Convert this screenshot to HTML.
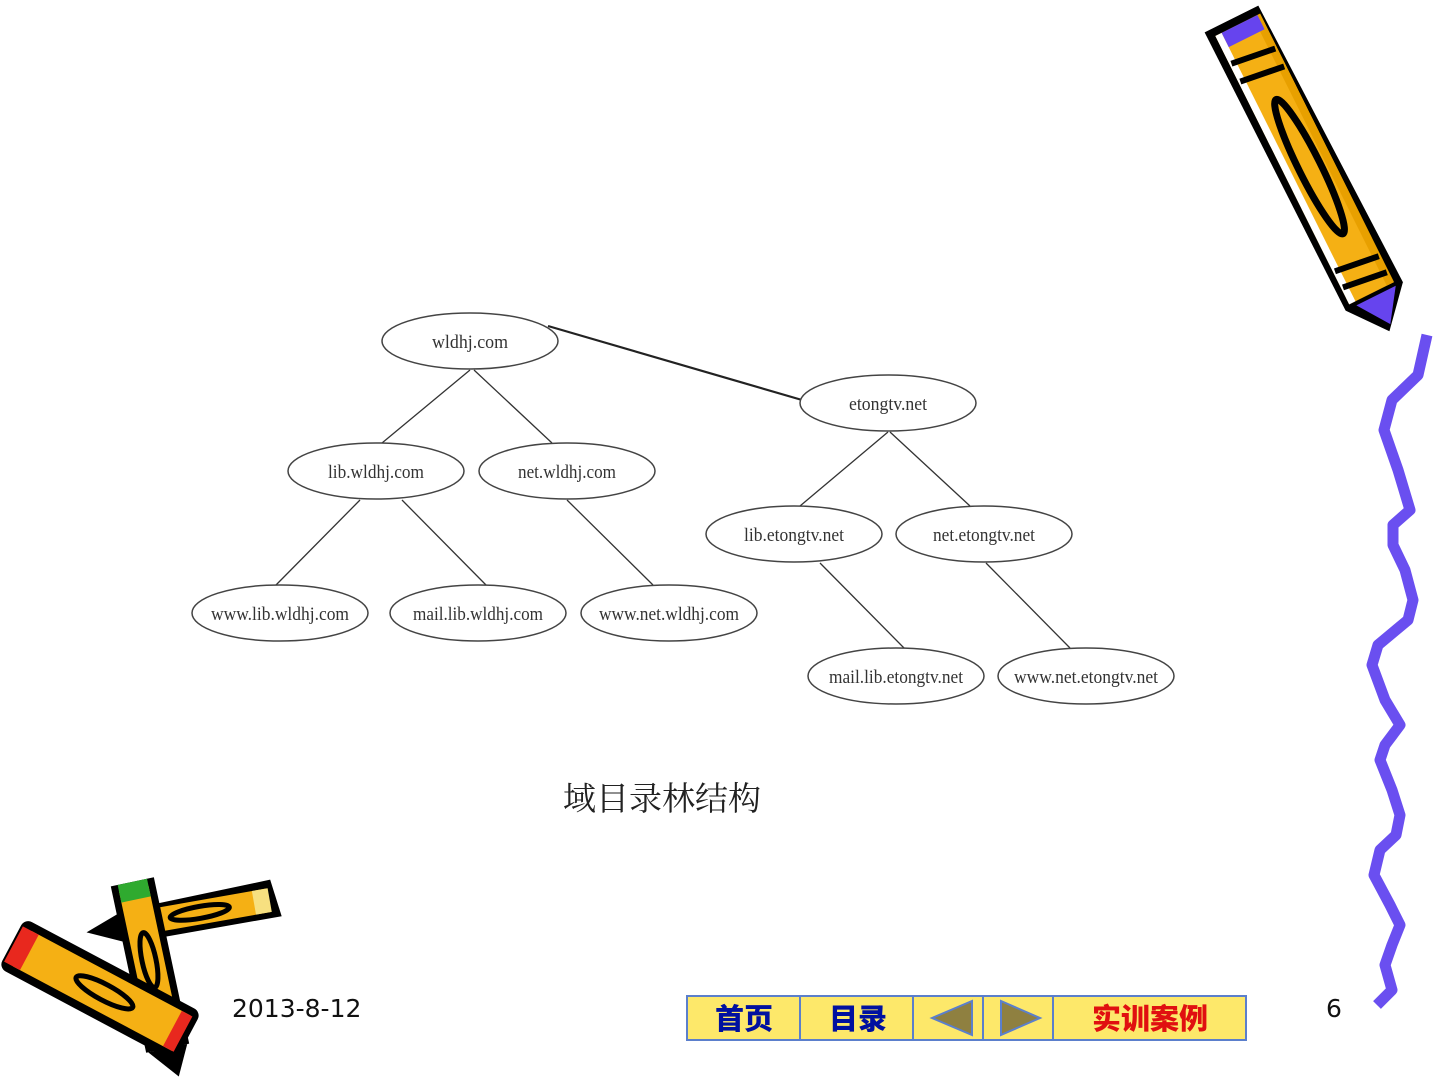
<!DOCTYPE html>
<html><head><meta charset="utf-8"><style>
body{margin:0;width:1440px;height:1080px;background:#fff;overflow:hidden;position:relative;font-family:"Liberation Sans","Noto Sans CJK SC",sans-serif}
svg{position:absolute;left:0;top:0}
</style></head><body>
<svg width="1440" height="1080" viewBox="0 0 1440 1080">
<g stroke="#333" stroke-width="1.3" fill="none">
<line x1="548" y1="326" x2="802" y2="400" stroke-width="2.2" stroke="#222"/>
<line x1="470" y1="370" x2="382" y2="443"/>
<line x1="474" y1="370" x2="552" y2="443"/>
<line x1="888" y1="432" x2="800" y2="506"/>
<line x1="890" y1="432" x2="970" y2="506"/>
<line x1="360" y1="500" x2="276" y2="585"/>
<line x1="402" y1="500" x2="486" y2="585"/>
<line x1="567" y1="500" x2="653" y2="585"/>
<line x1="820" y1="563" x2="904" y2="648"/>
<line x1="986" y1="563" x2="1070" y2="648"/>
</g>
<g stroke="#444" stroke-width="1.5" fill="#fff">
<ellipse cx="470" cy="341" rx="88" ry="28"/>
<ellipse cx="888" cy="403" rx="88" ry="28"/>
<ellipse cx="376" cy="471" rx="88" ry="28"/>
<ellipse cx="567" cy="471" rx="88" ry="28"/>
<ellipse cx="794" cy="534" rx="88" ry="28"/>
<ellipse cx="984" cy="534" rx="88" ry="28"/>
<ellipse cx="280" cy="613" rx="88" ry="28"/>
<ellipse cx="478" cy="613" rx="88" ry="28"/>
<ellipse cx="669" cy="613" rx="88" ry="28"/>
<ellipse cx="896" cy="676" rx="88" ry="28"/>
<ellipse cx="1086" cy="676" rx="88" ry="28"/>
</g>
<g font-family="Liberation Serif,serif" font-size="19" fill="#333" text-anchor="middle">
<text x="470" y="348" textLength="76" lengthAdjust="spacingAndGlyphs">wldhj.com</text>
<text x="888" y="410" textLength="78" lengthAdjust="spacingAndGlyphs">etongtv.net</text>
<text x="376" y="478" textLength="96" lengthAdjust="spacingAndGlyphs">lib.wldhj.com</text>
<text x="567" y="478" textLength="98" lengthAdjust="spacingAndGlyphs">net.wldhj.com</text>
<text x="794" y="541" textLength="100" lengthAdjust="spacingAndGlyphs">lib.etongtv.net</text>
<text x="984" y="541" textLength="102" lengthAdjust="spacingAndGlyphs">net.etongtv.net</text>
<text x="280" y="620" textLength="138" lengthAdjust="spacingAndGlyphs">www.lib.wldhj.com</text>
<text x="478" y="620" textLength="130" lengthAdjust="spacingAndGlyphs">mail.lib.wldhj.com</text>
<text x="669" y="620" textLength="140" lengthAdjust="spacingAndGlyphs">www.net.wldhj.com</text>
<text x="896" y="683" textLength="134" lengthAdjust="spacingAndGlyphs">mail.lib.etongtv.net</text>
<text x="1086" y="683" textLength="144" lengthAdjust="spacingAndGlyphs">www.net.etongtv.net</text>
</g>
<text x="662" y="810" font-family="Noto Serif CJK SC,serif" font-size="33" fill="#222" text-anchor="middle">域目录林结构</text>

<!-- right pencil -->
<g transform="translate(1310,172) rotate(-26.5)">
<polygon points="-32,-172 28,-172 34,140 0,178 -30,140" fill="#000"/>
<rect x="-24" y="-164" width="50" height="300" fill="#f5b014"/>
<rect x="18" y="-164" width="8" height="300" fill="#e8a000"/>
<rect x="-24" y="-164" width="7" height="300" fill="#fff"/>
<rect x="-17" y="-164" width="40" height="16" fill="#6644ee"/>
<ellipse cx="2" cy="-5" rx="11" ry="75" fill="none" stroke="#000" stroke-width="7"/>
<g stroke="#000" stroke-width="6"><line x1="-22" y1="-132" x2="24" y2="-126"/><line x1="-22" y1="-112" x2="24" y2="-106"/><line x1="-22" y1="100" x2="24" y2="106"/><line x1="-22" y1="118" x2="24" y2="124"/></g>
<polygon points="-18,140 26,140 4,172" fill="#6644ee"/>
</g>
<!-- purple squiggle -->
<polyline points="1427,335 1418,375 1392,400 1384,430 1398,470 1410,510 1393,525 1393,545 1405,570 1413,600 1408,620 1378,645 1372,665 1385,700 1400,725 1385,745 1380,760 1392,790 1400,815 1396,835 1380,850 1374,875 1390,905 1400,925 1392,945 1385,965 1392,990 1377,1005" fill="none" stroke="#6a4ff0" stroke-width="11" stroke-linejoin="round"/>

<!-- bottom-left pencils -->
<g transform="translate(185,915) rotate(-10)">
<polygon points="-100,0 -60,-15 90,-20 95,18 -60,18" fill="#000"/>
<rect x="-55" y="-12" width="140" height="24" fill="#f5b014"/>
<rect x="70" y="-12" width="16" height="24" fill="#f7e080"/>
<ellipse cx="15" cy="0" rx="30" ry="6" fill="none" stroke="#000" stroke-width="5"/>
</g>
<g transform="translate(150,965) rotate(-12)">
<rect x="-22" y="-85" width="44" height="170" fill="#000"/>
<rect x="-15" y="-78" width="30" height="158" fill="#f5b014"/>
<rect x="-15" y="-85" width="30" height="18" fill="#2faa2f"/>
<ellipse cx="0" cy="-5" rx="7" ry="28" fill="none" stroke="#000" stroke-width="5"/>
<polygon points="-20,85 20,85 5,115" fill="#000"/>
</g>
<g transform="translate(100,990) rotate(28)">
<rect x="-100" y="-28" width="200" height="56" rx="8" fill="#000"/>
<rect x="-88" y="-20" width="180" height="40" fill="#f5b014"/>
<rect x="-98" y="-20" width="18" height="40" fill="#e8281e"/>
<rect x="82" y="-20" width="12" height="40" fill="#e8281e"/>
<ellipse cx="5" cy="0" rx="32" ry="8" fill="none" stroke="#000" stroke-width="5"/>
</g>

<text x="232" y="1017" font-family="DejaVu Sans,sans-serif" font-size="25" fill="#111">2013-8-12</text>
<text x="1326" y="1017" font-family="DejaVu Sans,sans-serif" font-size="25" fill="#111">6</text>

<!-- nav bar -->
<g stroke="#5b7fcc" stroke-width="2" fill="#fde86a">
<rect x="687" y="996" width="113" height="44"/>
<rect x="800" y="996" width="113" height="44"/>
<rect x="913" y="996" width="70" height="44"/>
<rect x="983" y="996" width="70" height="44"/>
<rect x="1053" y="996" width="193" height="44"/>
</g>
<polygon points="932,1018 972,1001 972,1035" fill="#8f8040" stroke="#5b7fcc" stroke-width="2"/>
<polygon points="1001,1001 1001,1035 1040,1018" fill="#8f8040" stroke="#5b7fcc" stroke-width="2"/>
<g font-family="Noto Sans CJK SC,sans-serif" font-weight="900" font-size="29" text-anchor="middle">
<text x="744" y="1029" fill="#0010a0">首页</text>
<text x="858" y="1029" fill="#0010a0">目录</text>
<text x="1150" y="1029" fill="#e01010">实训案例</text>
</g>
</svg>
</body></html>
